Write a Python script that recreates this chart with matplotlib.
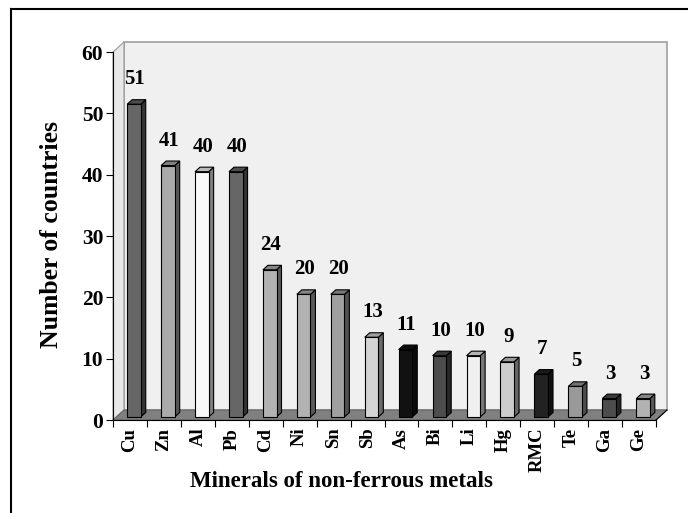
import numpy as np
import matplotlib
matplotlib.use("Agg")
import matplotlib.pyplot as plt
from matplotlib.patches import Polygon
from matplotlib.lines import Line2D
from matplotlib.transforms import IdentityTransform, ScaledTranslation
from matplotlib.colors import to_rgb

minerals = ['Cu', 'Zn', 'Al', 'Pb', 'Cd', 'Ni', 'Sn', 'Sb',
            'As', 'Bi', 'Li', 'Hg', 'RMC', 'Te', 'Ga', 'Ge']
countries = [51, 41, 40, 40, 24, 20, 20, 13, 11, 10, 10, 9, 7, 5, 3, 3]
bar_colors = ['#666666', '#aaaaaa', '#f8f8f8', '#666666', '#b2b2b2', '#b2b2b2',
              '#a0a0a0', '#d4d4d4', '#111111', '#4d4d4d', '#f0f0f0', '#cccccc',
              '#222222', '#999999', '#4d4d4d', '#b2b2b2']
y_ticks = [0, 10, 20, 30, 40, 50, 60]

plt.rcParams['font.family'] = ['Liberation Serif', 'DejaVu Serif']
plt.rcParams['font.weight'] = 'bold'

W, H, DPI = 688, 513, 100
fig = plt.figure(figsize=(W / DPI, H / DPI), dpi=DPI)
ax = fig.add_axes([113 / W, 93 / H, 543 / W, 368 / H])
ax.set_xlim(-0.5, len(minerals) - 0.5)
ax.set_ylim(0, 60)
ax.patch.set_visible(False)

# 3d box depth (pixels) and bar placement inside it
DEPTH = (11, 10)
FRONT = (4, 3)
BACK = (9, 7.5)
BAR_W = 0.4


def px(x, y, off=(0, 0), trans=None):
    t = trans if trans is not None else ax.transData
    X, Y = t.transform((x, y))
    return (X + off[0], Y + off[1])


def face(pts, z, **kw):
    p = Polygon(pts, closed=True, transform=IdentityTransform(),
                clip_on=False, zorder=z, **kw)
    ax.add_patch(p)


def shade(c, k):
    r, g, b = to_rgb(c)
    return (r * k, g * k, b * k)


ta = ax.transAxes
# back wall
face([px(0, 0, DEPTH, ta), px(1, 0, DEPTH, ta), px(1, 1, DEPTH, ta), px(0, 1, DEPTH, ta)],
     0.5, facecolor='#f0f0f0', edgecolor='#a0a0a0', lw=1.2)
# left wall
face([px(0, 0, trans=ta), px(0, 1, trans=ta), px(0, 1, DEPTH, ta), px(0, 0, DEPTH, ta)],
     0.6, facecolor='#e8e8e8', edgecolor='#999999', lw=0.8)
# floor
face([px(0, 0, trans=ta), px(1, 0, trans=ta), px(1, 0, DEPTH, ta), px(0, 0, DEPTH, ta)],
     0.7, facecolor='#808080', edgecolor='#666666', lw=0.8)
r0, r1 = px(1, 0, trans=ta), px(1, 0, DEPTH, ta)
ax.add_line(Line2D([r0[0], r1[0]], [r0[1], r1[1]], transform=IdentityTransform(),
                   color='black', lw=0.8, clip_on=False, zorder=0.8))

# bars: front faces through the axes, sides and tops shifted in depth
front_shift = ax.transData + ScaledTranslation(FRONT[0] / DPI, FRONT[1] / DPI, fig.dpi_scale_trans)
x = np.arange(len(minerals))
ax.bar(x, countries, BAR_W, color=bar_colors, edgecolor='black', lw=0.8,
       transform=front_shift, zorder=4, clip_on=False)
for i, (v, c) in enumerate(zip(countries, bar_colors)):
    l, r = i - BAR_W / 2, i + BAR_W / 2
    face([px(r, 0, FRONT), px(r, 0, BACK), px(r, v, BACK), px(r, v, FRONT)],
         3, facecolor=shade(c, 0.5), edgecolor='black', lw=0.8)
    face([px(l, v, FRONT), px(r, v, FRONT), px(r, v, BACK), px(l, v, BACK)],
         3, facecolor=shade(c, 0.75), edgecolor='black', lw=0.8)
    ax.annotate(str(v), (i, v), xytext=(5, 28), textcoords='offset pixels',
                ha='center', va='center', fontsize=15, fontweight='bold', zorder=5)

ax.set_xticks(x, minerals, rotation=90)
ax.set_xticks(np.arange(-0.5, len(minerals), 1), minor=True)
ax.tick_params(axis='x', which='major', length=0, pad=5.5, labelsize=13.5)
ax.tick_params(axis='x', which='minor', length=5, width=0.8, direction='out')
ax.set_yticks(y_ticks)
ax.tick_params(axis='y', length=5, width=0.8, pad=2, labelsize=15.5)

for s in ['top', 'right']:
    ax.spines[s].set_visible(False)
for s in ['left', 'bottom']:
    ax.spines[s].set_linewidth(0.8)
    ax.spines[s].set_zorder(2)

ax.set_ylabel('Number of countries', fontsize=18.5, fontweight='bold', va='center')
ax.yaxis.set_label_coords(-0.114, 0.505)
ax.set_xlabel('Minerals of non-ferrous metals', fontsize=16.5, fontweight='bold', va='center')
ax.xaxis.set_label_coords(0.42, -0.168)

# outer frame
fig.add_artist(Line2D([11 / W, 1], [1 - 9 / H, 1 - 9 / H], transform=fig.transFigure,
                      color='black', lw=1.5))
fig.add_artist(Line2D([11 / W, 11 / W], [0, 1 - 9 / H], transform=fig.transFigure,
                      color='black', lw=1.5))

fig.savefig('out.png', dpi=DPI)
